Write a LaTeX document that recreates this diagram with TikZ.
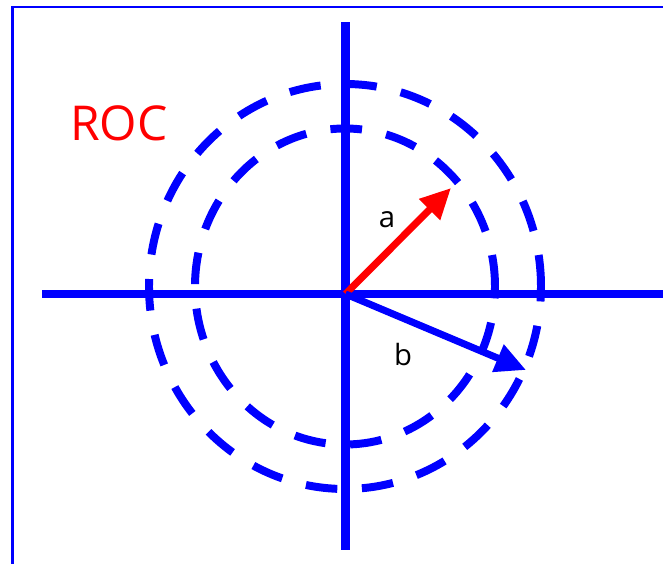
\documentclass[tikz,border=0pt]{standalone}
\usepackage{fontspec}
\setmainfont{Open Sans}
\usetikzlibrary{arrows.meta}
\begin{document}
\begin{tikzpicture}[x=0.03cm, y=0.03cm,
    axis/.style={blue, line width=7pt},
    roccircle/.style={blue, line width=6.8pt, dash pattern=on 27pt off 21pt},
    vec/.style={line width=6pt, -{Triangle[length=26pt, width=24pt]}}]
        \useasboundingbox (0,0) rectangle (663,564);

        % Frame
        \draw[blue, line width=2pt] (12.5,0) -- (12.5,557) -- (663,557);

        % Axes
        \coordinate (O) at (345.5,270);
        \coordinate (xl) at (42,270);
        \coordinate (xr) at (663,270);
        \coordinate (yt) at (345.5,542);
        \coordinate (yb) at (345.5,14);
        \draw[axis] (xl) -- (xr);
        \draw[axis] (yb) -- (yt);

        % Region of convergence
        \coordinate (C) at (345,277.5);
        \draw[roccircle] (C) ellipse [x radius=196, y radius=202.5];
        \draw[roccircle] (C) ellipse [x radius=150, y radius=158];
        \node[red, font=\fontsize{41}{48}\selectfont] (roc) at (119,441) {ROC};

        % Vectors
        \coordinate (A) at (451,376);
        \coordinate (B) at (526,194);
        \draw[vec, red] (O) -- (A);
        \draw[vec, blue] (O) -- (B);
        \node[font=\fontsize{25}{30}\selectfont] (la) at (387,344) {a};
        \node[font=\fontsize{25}{30}\selectfont] (lb) at (403,209) {b};
    \end{tikzpicture}
\end{document}
